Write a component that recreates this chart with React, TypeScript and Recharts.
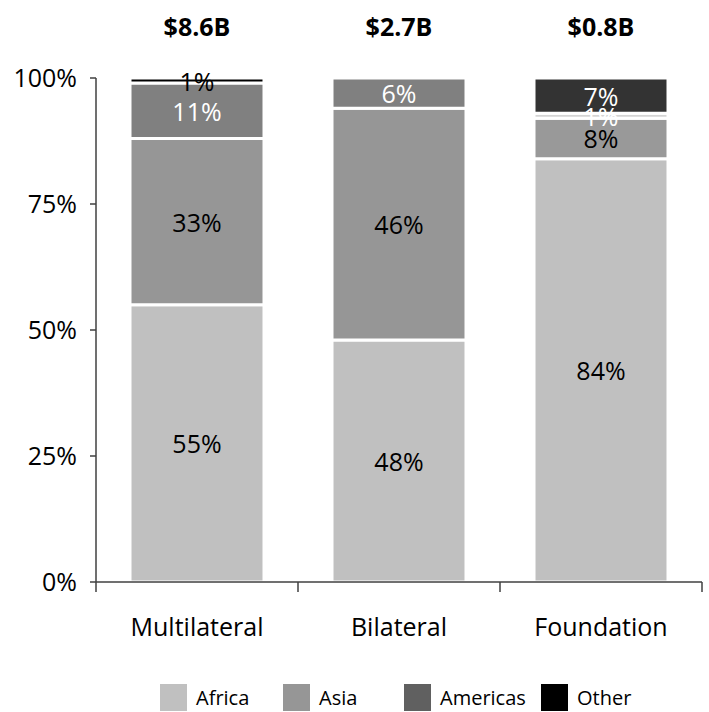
import React from 'react';
import { BarChart, Bar, XAxis, YAxis, LabelList, Cell } from 'recharts';

const categories = ['Multilateral', 'Bilateral', 'Foundation'];
const totals = ['$8.6B', '$2.7B', '$0.8B'];
const africa = [55, 48, 84];
const asia = [33, 46, 8];
const americas = [11, 6, 1];
const other = [1, 0, 7];
const yTicks = [0, 25, 50, 75, 100];

const africaColors = ['#c0c0c0', '#c0c0c0', '#c0c0c0'];
const asiaColors = ['#969696', '#969696', '#999999'];
const americasColors = ['#808080', '#808080', '#d4d4d4'];
const otherColors = ['#000000', '#000000', '#333333'];

const africaLabelColors = ['#000', '#000', '#000'];
const asiaLabelColors = ['#000', '#000', '#000'];
const americasLabelColors = ['#fff', '#fff', '#fff'];
const otherLabelColors = ['#000', '#fff', '#fff'];

const legendNames = ['Africa', 'Asia', 'Americas', 'Other'];
const legendColors = ['#c0c0c0', '#969696', '#606060', '#000000'];
const legendItemWidths = [123, 121, 137, 90];

const FONT = '"Open Sans", sans-serif';

const data = categories.map((c, i) => ({
  category: c,
  total: totals[i],
  africa: africa[i],
  asia: asia[i],
  americas: americas[i],
  other: other[i],
}));

const renderSegLabel = (colors: string[]) => (props: any) => {
  const { x, y, width, height, value, index } = props;
  if (!value) return null;
  return (
    <text
      x={Number(x) + Number(width) / 2}
      y={Number(y) + Number(height) / 2}
      textAnchor="middle"
      dominantBaseline="central"
      fill={colors[index]}
      fontSize={25}
      fontFamily={FONT}
    >
      {value}%
    </text>
  );
};

const CategoryTick = (props: any) => {
  const { x, y, payload, index, visibleTicksCount } = props;
  const half = payload && payload.offset ? payload.offset : 102;
  const last = index === (visibleTicksCount ?? categories.length) - 1;
  return (
    <g>
      <line x1={x - half} x2={x - half} y1={y} y2={y + 10} stroke="#404040" strokeWidth={1.5} />
      {last && <line x1={x + half} x2={x + half} y1={y} y2={y + 10} stroke="#404040" strokeWidth={1.5} />}
      <text x={x} y={y + 54} textAnchor="middle" fontSize={25} fontFamily={FONT} fill="#000">
        {payload.value}
      </text>
    </g>
  );
};

const TopTick = (props: any) => {
  const { x, y, payload } = props;
  return (
    <text x={x} y={y} textAnchor="middle" fontSize={25} fontWeight={700} fontFamily={FONT} fill="#000">
      {payload.value}
    </text>
  );
};

export default function App() {
  return (
    <div style={{ position: 'absolute', left: 0, top: 0, width: 709, height: 712, background: '#fff', fontFamily: FONT }}>
      <BarChart
        width={709}
        height={712}
        data={data}
        margin={{ top: 0, right: 7, bottom: 60, left: 0 }}
        barSize={134}
      >
        <XAxis
          xAxisId="top"
          orientation="top"
          dataKey="total"
          height={78}
          axisLine={false}
          tickLine={false}
          tickSize={0}
          tickMargin={42}
          tick={<TopTick />}
          interval={0}
        />
        <XAxis
          dataKey="category"
          height={70}
          axisLine={{ stroke: '#404040', strokeWidth: 1.5 }}
          tickLine={false}
          tickSize={0}
          tickMargin={0}
          tick={<CategoryTick />}
          interval={0}
        />
        <YAxis
          type="number"
          domain={[0, 100]}
          ticks={yTicks}
          width={96}
          tickFormatter={(v: number) => `${v}%`}
          axisLine={{ stroke: '#404040', strokeWidth: 1.5 }}
          tickLine={{ stroke: '#404040', strokeWidth: 1.5 }}
          tickSize={6}
          tickMargin={13}
          tick={{ fontSize: 25, fill: '#000', fontFamily: FONT }}
          allowDataOverflow
        />
        <Bar dataKey="africa" stackId="s" stroke="#fff" strokeWidth={3} isAnimationActive={false}>
          {data.map((_, i) => <Cell key={i} fill={africaColors[i]} />)}
          <LabelList dataKey="africa" content={renderSegLabel(africaLabelColors)} />
        </Bar>
        <Bar dataKey="asia" stackId="s" stroke="#fff" strokeWidth={3} isAnimationActive={false}>
          {data.map((_, i) => <Cell key={i} fill={asiaColors[i]} />)}
          <LabelList dataKey="asia" content={renderSegLabel(asiaLabelColors)} />
        </Bar>
        <Bar dataKey="americas" stackId="s" stroke="#fff" strokeWidth={3} isAnimationActive={false}>
          {data.map((_, i) => <Cell key={i} fill={americasColors[i]} />)}
          <LabelList dataKey="americas" content={renderSegLabel(americasLabelColors)} />
        </Bar>
        <Bar dataKey="other" stackId="s" stroke="#fff" strokeWidth={3} isAnimationActive={false}>
          {data.map((_, i) => <Cell key={i} fill={otherColors[i]} />)}
          <LabelList dataKey="other" content={renderSegLabel(otherLabelColors)} />
        </Bar>
      </BarChart>
      <div style={{ position: 'absolute', left: 160, top: 684, display: 'flex', alignItems: 'flex-start' }}>
        {legendNames.map((name, i) => (
          <div key={name} style={{ width: legendItemWidths[i], display: 'flex', alignItems: 'center' }}>
            <div style={{ width: 27, height: 27, background: legendColors[i], flex: 'none' }} />
            <span style={{ marginLeft: 9, fontSize: 20, color: '#000', fontFamily: FONT, lineHeight: '27px' }}>{name}</span>
          </div>
        ))}
      </div>
    </div>
  );
}
